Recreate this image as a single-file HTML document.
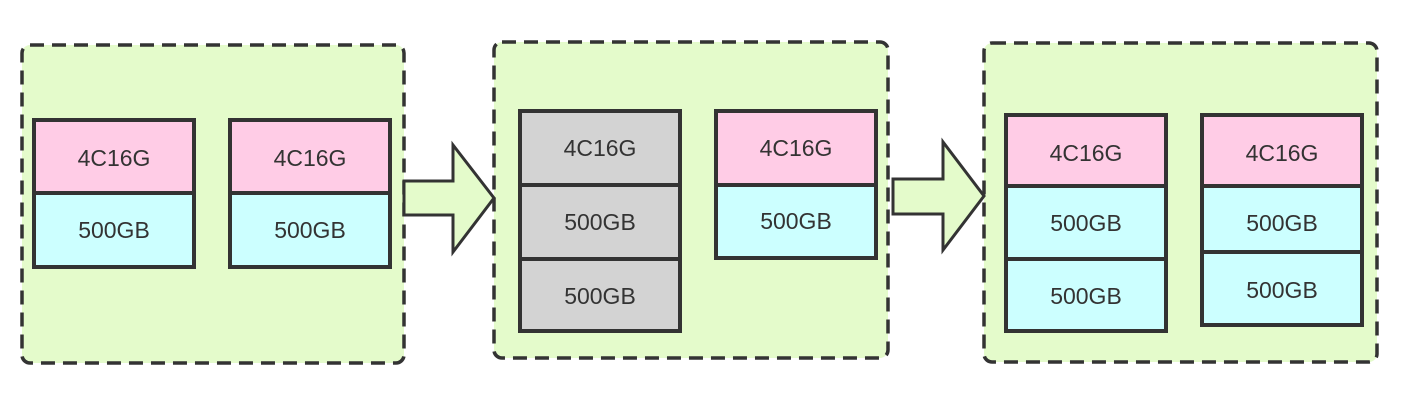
<!DOCTYPE html>
<html><head><meta charset="utf-8"><style>
html,body{margin:0;padding:0;background:#fff;}
svg{display:block}
text{font-family:"Liberation Sans",sans-serif;font-size:23px;fill:#333;text-anchor:middle;dominant-baseline:central}
</style></head><body>
<svg width="1402" height="402" viewBox="0 0 1402 402" xmlns="http://www.w3.org/2000/svg">
<g stroke="#333" stroke-width="3.5" fill="#e4fbcb" stroke-dasharray="14 8">
<rect x="22" y="45" width="382" height="318" rx="8"/>
<rect x="494" y="42" width="394" height="316" rx="8"/>
<rect x="984" y="43" width="393" height="319" rx="8"/>
</g>
<g stroke="#333" stroke-width="3" fill="#e4fbcb" stroke-linejoin="miter">
<polygon points="404,181 453,181 453,145 494,198 453,252 453,215 404,215"/>
<polygon points="893,179 943,179 943,142 984,196 943,250 943,214 893,214"/>
</g>
<g stroke="#333" stroke-width="4">
<rect x="34" y="120" width="160" height="73" fill="#ffcce6"/>
<rect x="34" y="193" width="160" height="74" fill="#ccffff"/>
<rect x="230" y="120" width="160" height="73" fill="#ffcce6"/>
<rect x="230" y="193" width="160" height="74" fill="#ccffff"/>
<rect x="520" y="111" width="160" height="74" fill="#d3d3d3"/>
<rect x="520" y="185" width="160" height="74" fill="#d3d3d3"/>
<rect x="520" y="259" width="160" height="72" fill="#d3d3d3"/>
<rect x="716" y="111" width="160" height="74" fill="#ffcce6"/>
<rect x="716" y="185" width="160" height="73" fill="#ccffff"/>
<rect x="1006" y="115" width="160" height="71" fill="#ffcce6"/>
<rect x="1006" y="186" width="160" height="73" fill="#ccffff"/>
<rect x="1006" y="259" width="160" height="72" fill="#ccffff"/>
<rect x="1202" y="115" width="160" height="71" fill="#ffcce6"/>
<rect x="1202" y="186" width="160" height="66" fill="#ccffff"/>
<rect x="1202" y="252" width="160" height="73" fill="#ccffff"/>
</g>
<text x="114" y="158">4C16G</text>
<text x="114" y="230">500GB</text>
<text x="310" y="158">4C16G</text>
<text x="310" y="230">500GB</text>
<text x="600" y="148">4C16G</text>
<text x="600" y="222">500GB</text>
<text x="600" y="296">500GB</text>
<text x="796" y="148">4C16G</text>
<text x="796" y="221">500GB</text>
<text x="1086" y="153">4C16G</text>
<text x="1086" y="223">500GB</text>
<text x="1086" y="296">500GB</text>
<text x="1282" y="153">4C16G</text>
<text x="1282" y="223">500GB</text>
<text x="1282" y="290">500GB</text>
</svg>
</body></html>
